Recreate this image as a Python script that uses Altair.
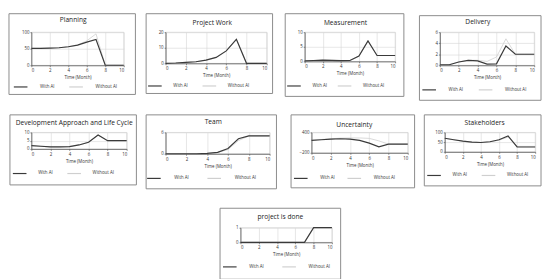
import altair as alt
import pandas as pd

months = [0, 1, 2, 3, 4, 5, 6, 7, 8, 9, 10]
series_names = ["With AI", "Without AI"]

planning_ai = [51, 51, 52, 53, 56, 61, 70, 78, 0, 0, 0]
planning_no = [51, 51, 52, 53, 56, 61, 74, 95, 0, 0, 0]
project_ai = [0, 0.2, 0.6, 1.0, 2.1, 3.8, 8.0, 15.4, 0, 0, 0]
project_no = [0, 0.2, 0.6, 1.0, 2.1, 3.8, 8.0, 15.6, 0, 0, 0]
measure_ai = [0.2, 0.3, 0.45, 0.35, 0.25, 0.3, 1.8, 7.0, 2.0, 2.0, 2.0]
measure_no = [0.2, 0.3, 0.45, 0.35, 0.25, 0.3, 1.8, 7.0, 2.0, 2.0, 2.0]
delivery_ai = [0.1, 0.1, 0.6, 0.9, 0.8, 0.2, 0.25, 3.5, 2.0, 2.0, 2.0]
delivery_no = [0.1, 0.1, 0.6, 0.9, 0.9, 0.7, 1.5, 4.8, 2.0, 2.0, 2.0]
dev_ai = [2.0, 1.6, 1.2, 1.2, 1.4, 2.4, 4.0, 8.4, 5.0, 5.0, 5.0]
dev_no = [2.0, 1.6, 1.2, 1.2, 1.4, 2.4, 4.0, 8.4, 5.0, 5.0, 5.0]
team_ai = [0, 0, 0, 0, 0.1, 0.4, 1.5, 4.2, 5.0, 5.0, 5.0]
team_no = [0, 0, 0, 0, 0.1, 0.35, 1.2, 3.7, 5.0, 5.0, 5.0]
unc_ai = [164, 184, 203, 213, 203, 164, 85, -23, 56, 56, 56]
unc_no = [164, 190, 213, 230, 236, 236, 224, 150, 56, 56, 56]
stake_ai = [70, 62, 55, 50, 48, 52, 62, 82, 25, 25, 25]
stake_no = [70, 62, 55, 50, 48, 52, 60, 76, 28, 28, 28]
done_ai = [0, 0, 0, 0, 0, 0, 0, 0, 1, 1, 1]
done_no = [0, 0, 0, 0, 0, 0, 0, 0, 1, 1, 1]

x_ticks = [0, 2, 4, 6, 8, 10]

FONT = "Open Sans"
one = pd.DataFrame({"k": [0]})


def panel(title, ai, no, ydom, yvals, plot, size, box, cell_left, row_top,
          leg, tpos):
    px, py = plot
    w, h = size
    bx0, bx1, by0, by1 = box
    df = pd.DataFrame({
        "month": months + months,
        "value": ai + no,
        "series": [series_names[0]] * len(months) + [series_names[1]] * len(months),
    })
    spacer = alt.Chart(one).mark_rect(opacity=0).encode(
        x=alt.value(cell_left - px), x2=alt.value(bx1 - px),
        y=alt.value(row_top - py), y2=alt.value(by1 - py))
    frame = alt.Chart(one).mark_rect(filled=False, stroke="#8a8a8a", strokeWidth=1).encode(
        x=alt.value(bx0 - px), x2=alt.value(bx1 - px),
        y=alt.value(by0 - py), y2=alt.value(by1 - py))
    tx, ty = tpos
    ttl = alt.Chart(one).mark_text(
        text=title, font=FONT, fontSize=6.8, color="#222",
        align="center", baseline="middle"
    ).encode(x=alt.value(tx - px), y=alt.value(ty - py))
    lx, ly, loff, lpad = leg
    color = alt.Color(
        "series:N",
        scale=alt.Scale(domain=series_names, range=["#3a3a3a", "#cfcfcf"]),
        legend=alt.Legend(orient="none", legendX=lx, legendY=ly - 3, direction="horizontal",
                          title=None, symbolType="stroke", symbolSize=196,
                          symbolStrokeWidth=1.2, labelOffset=loff, columnPadding=lpad,
                          labelFontSize=4.5, labelFont=FONT, labelColor="#333"),
    )
    xenc = alt.X("month:Q", scale=alt.Scale(domain=[0, 10], nice=False),
                 axis=alt.Axis(values=x_ticks, title="Time (Month)", format="d"))
    yenc = alt.Y("value:Q", scale=alt.Scale(domain=ydom, nice=False, zero=False),
                 axis=alt.Axis(values=yvals, title=None, format="d"))
    base = alt.Chart(df)
    l_no = base.transform_filter(alt.datum.series == "Without AI").mark_line(
        strokeWidth=0.8).encode(x=xenc, y=yenc, color=color)
    l_ai = base.transform_filter(alt.datum.series == "With AI").mark_line(
        strokeWidth=1.2).encode(x=xenc, y=yenc, color=color)
    return alt.layer(spacer, frame, ttl, l_no, l_ai).properties(width=w, height=h)


R1, R2, R3 = 24, 126, 222

p1 = panel("Planning", planning_ai, planning_no, [0, 100], [0, 50, 100],
           (27, R1), (95, 34), (4, 134, 5, 88), 4, 5, (-19, 51, 12, 12), (70, 12))
p2 = panel("Project Work", project_ai, project_no, [0, 20], [0, 10, 20],
           (163, R1), (104, 32), (143, 273, 5, 87), 134, 5, (-19, 50, 11, 12), (211, 15))
p3 = panel("Measurement", measure_ai, measure_no, [0, 10], [0, 5, 10],
           (304, R1), (93, 30), (284, 406, 5, 90), 273, 5, (-19, 50, 11, 8), (346, 15))
p4 = panel("Delivery", delivery_ai, delivery_no, [0, 6], [0, 2, 4, 6],
           (441, R1 + 1), (97, 34), (420, 545, 8, 95), 406, 5, (-19, 54, 12, 13), (480, 15))
p5 = panel("Development Approach and Life Cycle", dev_ai, dev_no, [0, 10], [0, 5, 10],
           (27, R2), (98, 17), (5, 135, 108, 180), 4, 95, (-20, 37, 11, 12), (71, 116.5))
p6 = panel("Team", team_ai, team_no, [0, 6], [0, 6],
           (163, R2), (107, 22), (143, 277, 108, 184), 135, 95, (-20, 42, 13, 16), (212, 115.5))
p7 = panel("Uncertainty", unc_ai, unc_no, [-200, 400], [-200, 400],
           (311, R2), (99, 21), (290, 417, 108, 183), 277, 95, (-19, 42, 12, 10), (355, 118))
p8 = panel("Stakeholders", stake_ai, stake_no, [0, 100], [0, 50, 100],
           (446, R2), (93, 20), (425, 545, 108, 181), 417, 95, (-19, 39, 11, 12), (487, 116))
p9 = panel("project is done", done_ai, done_no, [0, 1], [0, 1],
           (241, R3), (94, 15), (220, 344, 202, 275), 220, 184, (-19, 35, 12, 16), (282, 211.5))

blank = alt.Chart(one).mark_rect(opacity=0).encode(
    x=alt.value(0), x2=alt.value(1), y=alt.value(0), y2=alt.value(1)
).properties(width=193, height=15, view=alt.ViewBackground(strokeOpacity=0))

row1 = alt.hconcat(p1, p2, p3, p4, spacing=0).resolve_scale(color="independent")
row2 = alt.hconcat(p5, p6, p7, p8, spacing=0).resolve_scale(color="independent")
row3 = alt.hconcat(blank, p9, spacing=0).resolve_scale(color="independent")

chart = alt.vconcat(row1, row2, row3, spacing=0).resolve_scale(
    color="independent"
).properties(padding=0).configure_view(
    stroke="#c8c8c8", strokeWidth=0.6
).configure_axis(
    labelFont=FONT, titleFont=FONT, labelFontSize=4.5, titleFontSize=4.5,
    titleFontWeight="normal", labelColor="#333", titleColor="#333",
    gridColor="#d6d6d6", gridWidth=0.6, domainColor="#444", domainWidth=0.7,
    tickSize=1.5, tickColor="#444", tickWidth=0.6, labelPadding=1, titlePadding=3,
)

chart.save("out.html", embed_options={"renderer": "svg", "actions": False})
